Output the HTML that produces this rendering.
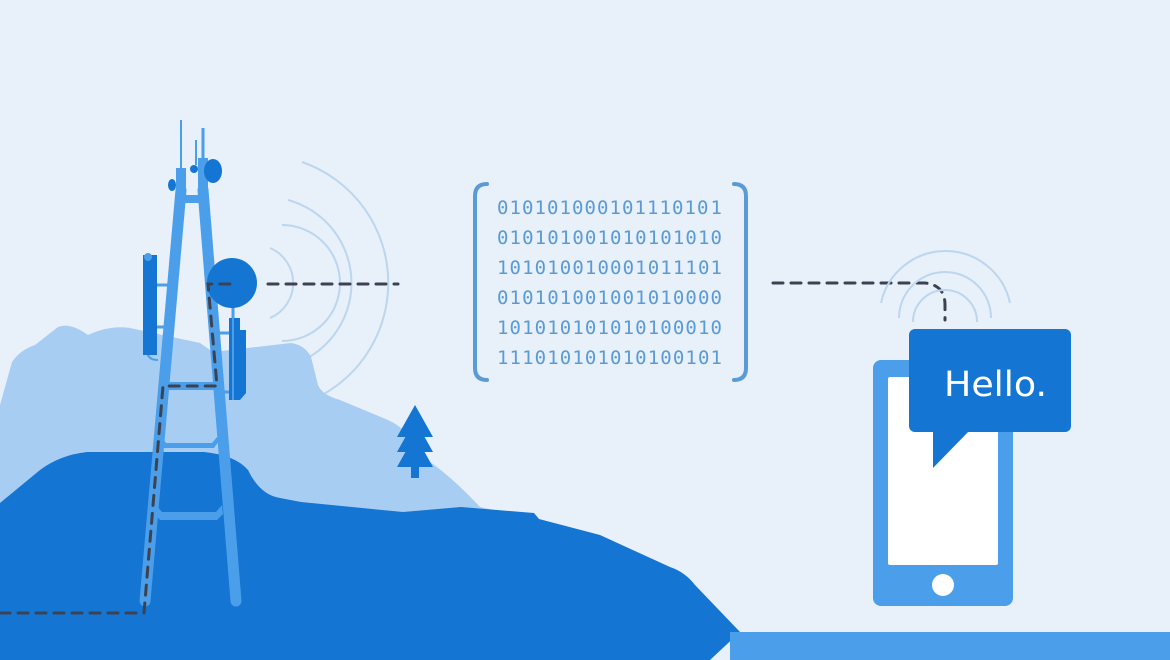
<!DOCTYPE html>
<html><head><meta charset="utf-8"><style>
html,body{margin:0;padding:0;background:#e8f0fa;}
svg{display:block}
</style></head><body>
<svg width="1170" height="660" viewBox="0 0 1170 660" xmlns="http://www.w3.org/2000/svg">
<rect width="1170" height="660" fill="#e8f0fa"/>
<g fill="none" stroke="#bcd6ef" stroke-width="2">
<path d="M270 248 A38 38 0 0 1 270 318"/>
<path d="M282 225 A58 58 0 0 1 282 341"/>
<path d="M288 200 A86 86 0 0 1 288 366"/>
<path d="M302 162 A128 128 0 0 1 302 404"/>
</g>
<path d="M0 405 L12 362 Q20 350 35 345 L58 327 Q70 322 88 335 Q110 325 130 328 L200 343 L213 352 L291 343 Q305 345 311 357 L318 385 Q322 395 340 400 L388 420 Q410 430 427 460 Q450 475 480 507 L540 520 L540 660 L0 660 Z" fill="#a8cdf3"/>
<path d="M0 503 L40 470 Q60 455 87 452 L204 452 Q235 455 248 470 Q260 495 280 498 L301 502 L403 512 L461 507 L534 513 L539 519 L600 535 L670 567 Q685 572 695 585 L740 632 L710 660 L0 660 Z" fill="#1475d2"/>
<rect x="730" y="632" width="440" height="28" fill="#4a9eea"/>
<g fill="#1475d2">
<polygon points="415,405 433,437 397,437"/>
<polygon points="415,420 433,452 397,452"/>
<polygon points="415,435 433,467 397,467"/>
<rect x="411" y="465" width="8" height="13"/>
</g>
<g fill="#4a9eea" stroke="#4a9eea">
<line x1="181" y1="190" x2="145" y2="601" stroke-width="11" stroke-linecap="round"/>
<line x1="203" y1="190" x2="236" y2="601" stroke-width="11" stroke-linecap="round"/>
<rect x="176" y="195" width="32" height="8" stroke="none"/>
<rect x="160" y="382" width="58" height="8" stroke="none"/>
<polygon points="162,437 166,443 212,443 217,437 219,441 214,448 164,448 160,441" stroke="none"/>
<polygon points="156,505 162,512 216,512 222,505 223,514 217,520 160,520 155,514" stroke="none"/>
<line x1="181" y1="120" x2="181" y2="180" stroke-width="2"/>
<line x1="203" y1="128" x2="203" y2="195" stroke-width="3"/>
<line x1="196" y1="140" x2="196" y2="165" stroke-width="2"/>
<rect x="176" y="168" width="10" height="25" stroke="none"/>
<rect x="198" y="158" width="10" height="35" stroke="none"/>
<line x1="157" y1="285" x2="170" y2="285" stroke-width="3"/>
<line x1="157" y1="327" x2="168" y2="327" stroke-width="3"/>
<line x1="218" y1="333" x2="230" y2="333" stroke-width="3"/>
<line x1="220" y1="392" x2="230" y2="392" stroke-width="3"/>
<path d="M148 340 L148 355 Q150 360 158 360" fill="none" stroke-width="2"/>
<line x1="233" y1="305" x2="233" y2="320" stroke-width="3"/>
</g>
<g fill="#1475d2">
<ellipse cx="213" cy="171" rx="9" ry="12"/>
<ellipse cx="194" cy="169" rx="4" ry="4"/>
<ellipse cx="172" cy="185" rx="4" ry="6"/>
<circle cx="232" cy="283" r="25"/>
<rect x="143" y="255" width="14" height="100"/>
<circle cx="148" cy="257" r="4" fill="#4a9eea"/>
<path d="M229 318 L240 318 L240 330 L246 330 L246 393 L240 400 L229 400 Z"/>
</g>
<line x1="233" y1="318" x2="233" y2="400" stroke="#4a9eea" stroke-width="2"/>
<g fill="none" stroke="#3d4252" stroke-width="3" stroke-dasharray="10 8" stroke-linecap="round">
<path d="M0 613 L144 613 L163 386 L217 386 L208 284 L230 284"/>
<path d="M268 284 L398 284"/>
<path d="M773 283 L925 283 Q945 285 945 305 L945 320"/>
</g>
<g fill="none" stroke="#5b9bd5" stroke-width="4" stroke-linecap="round">
<path d="M487 184 Q475 184 475 196 L475 368 Q475 380 487 380"/>
<path d="M734 184 Q746 184 746 196 L746 368 Q746 380 734 380"/>
</g>
<g font-family="'DejaVu Sans Mono', 'Liberation Mono', monospace" font-size="19" fill="#5b9bd5">
<text x="497" y="214" textLength="225" lengthAdjust="spacing">01010100010111010​1</text>
<text x="497" y="244" textLength="225" lengthAdjust="spacing">010101001010101010</text>
<text x="497" y="274" textLength="225" lengthAdjust="spacing">101010010001011101</text>
<text x="497" y="304" textLength="225" lengthAdjust="spacing">010101001001010000</text>
<text x="497" y="334" textLength="225" lengthAdjust="spacing">101010101010100010</text>
<text x="497" y="364" textLength="225" lengthAdjust="spacing">111010101010100101</text>
</g>
<g fill="none" stroke="#bcd6ef" stroke-width="2">
<path d="M881 303 A66 66 0 0 1 1010 303"/>
<path d="M899 318 A46 46 0 0 1 991 318"/>
<path d="M913 322 A32 32 0 0 1 977 322"/>
</g>
<rect x="873" y="360" width="140" height="246" rx="8" fill="#4a9eea"/>
<rect x="888" y="377" width="110" height="188" rx="2" fill="#ffffff"/>
<circle cx="943" cy="585" r="11" fill="#ffffff"/>
<rect x="909" y="329" width="162" height="103" rx="6" fill="#1475d2"/>
<polygon points="933,430 933,468 970,430" fill="#1475d2"/>
<text x="944" y="396" font-family="'DejaVu Sans', 'Liberation Sans', sans-serif" font-size="35" fill="#ffffff" textLength="103" lengthAdjust="spacingAndGlyphs">Hello.</text>
</svg>
</body></html>
